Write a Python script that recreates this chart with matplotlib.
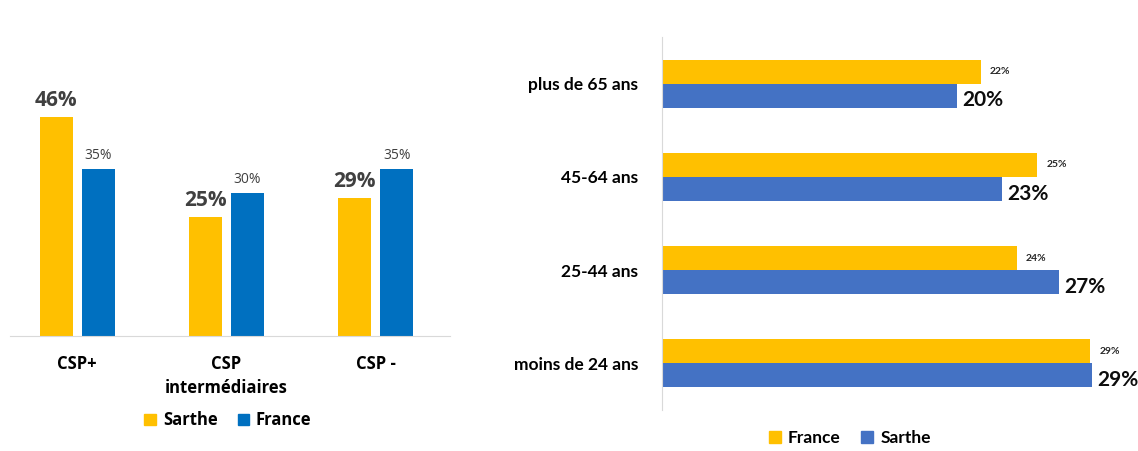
import matplotlib.pyplot as plt
from matplotlib.patches import Patch
import numpy as np

# left chart: categories socio-professionnelles
csp_labels = ['CSP+', 'CSP\nintermédiaires', 'CSP -']
csp_sarthe = [46, 25, 29]
csp_france = [35, 30, 35]

# right chart: age groups
age_labels = ['plus de 65 ans', '45-64 ans', '25-44 ans', 'moins de 24 ans']
age_france = [21.6, 25.4, 24.0, 29.0]
age_sarthe = [20.0, 23.0, 26.9, 29.1]

gold = '#FFC000'
blue_l = '#0070C0'
blue_r = '#4472C4'
grey_txt = '#404040'

plt.rcParams['font.family'] = ['Open Sans', 'DejaVu Sans']

fig = plt.figure(figsize=(11.38, 4.51), dpi=100)

# ---- left panel
ax1 = fig.add_axes([0.0088, 0.255, 0.387, 0.634])
x = np.arange(len(csp_labels))
w = 0.22
b1 = ax1.bar(x - 0.14, csp_sarthe, w, color=gold)
b2 = ax1.bar(x + 0.14, csp_france, w, color=blue_l)
for r, v in zip(b1, csp_sarthe):
    ax1.text(r.get_x() + r.get_width() / 2, v + 1.2, f'{v}%', ha='center', va='bottom',
             fontsize=15, fontweight='bold', color=grey_txt)
for r, v in zip(b2, csp_france):
    ax1.text(r.get_x() + r.get_width() / 2, v + 1.2, f'{v}%', ha='center', va='bottom',
             fontsize=10, color=grey_txt)
ax1.set_xlim(-0.45, 2.5)
ax1.set_ylim(0, 60)
ax1.set_yticks([])
ax1.set_xticks(x)
ax1.set_xticklabels(csp_labels, fontsize=12, fontweight='bold', linespacing=1.4)
ax1.tick_params(axis='x', length=0, pad=14)
for s in ['top', 'right', 'left']:
    ax1.spines[s].set_visible(False)
ax1.spines['bottom'].set_color('#d9d9d9')
ax1.legend(handles=[Patch(color=gold, label='Sarthe'), Patch(color=blue_l, label='France')],
           loc='center', bbox_to_anchor=(0.495, -0.295), ncol=2, frameon=False,
           prop={'weight': 'bold', 'size': 12}, handlelength=0.7, handleheight=0.7,
           handletextpad=0.4, columnspacing=1.2)

# ---- right panel
lato = ['Lato', 'DejaVu Sans']
ax2 = fig.add_axes([0.5817, 0.0909, 0.4025, 0.827])
y = np.arange(len(age_labels))
h = 0.257
c1 = ax2.barh(y - h / 2, age_france, h, color=gold)
c2 = ax2.barh(y + h / 2, age_sarthe, h, color=blue_r)
for r, v in zip(c1, age_france):
    ax2.text(v + 0.6, r.get_y() + r.get_height() / 2, f'{v:.0f}%', ha='left', va='center',
             fontsize=7.5, fontweight='bold', color='#262626', family=lato)
for r, v in zip(c2, age_sarthe):
    ax2.text(v + 0.35, r.get_y() + r.get_height() / 2 + 0.05, f'{v:.0f}%', ha='left', va='center',
             fontsize=15, fontweight='bold', color='#0d0d0d', family=lato, clip_on=False)
ax2.set_xlim(0, 31)
ax2.set_ylim(3.5, -0.5)
ax2.set_xticks([])
ax2.set_yticks(y)
ax2.set_yticklabels(age_labels, fontsize=12.5, fontweight='bold', family=lato)
ax2.tick_params(axis='y', length=0, pad=17)
for s in ['top', 'right', 'bottom']:
    ax2.spines[s].set_visible(False)
ax2.spines['left'].set_color('#d9d9d9')
ax2.legend(handles=[Patch(color=gold, label='France'), Patch(color=blue_r, label='Sarthe')],
           loc='center', bbox_to_anchor=(0.41, -0.075), ncol=2, frameon=False,
           prop={'weight': 'bold', 'size': 12.5, 'family': 'Lato'}, handlelength=0.7, handleheight=0.7,
           handletextpad=0.4, columnspacing=1.2)

fig.savefig('out.png', dpi=100)
